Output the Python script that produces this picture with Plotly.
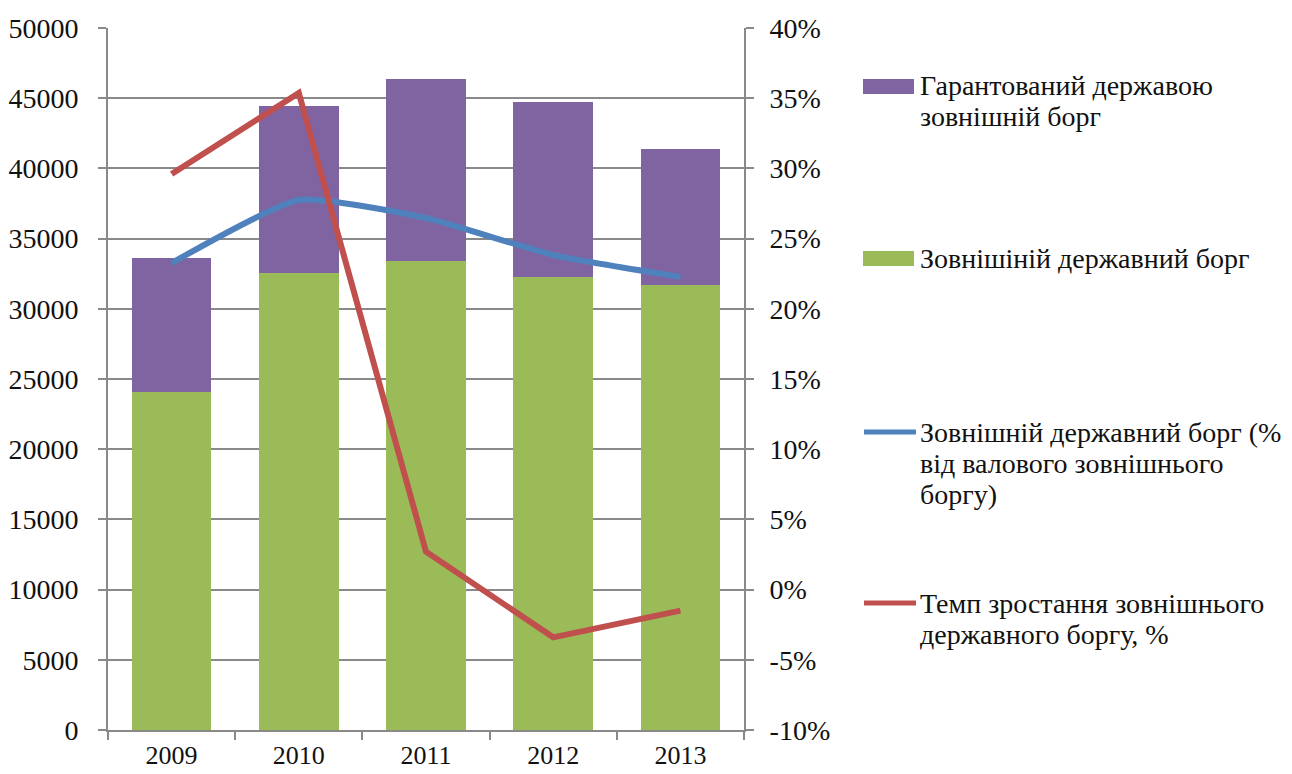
import plotly.graph_objects as go

years = ["2009", "2010", "2011", "2012", "2013"]
external_debt = [24050, 32550, 33400, 32270, 31700]
guaranteed_debt = [9570, 11890, 12970, 12460, 9660]
share_pct = [23.26, 27.75, 26.47, 23.83, 22.27]
growth_pct = [29.6, 35.37, 2.7, -3.4, -1.5]
right_ticks = [-10, -5, 0, 5, 10, 15, 20, 25, 30, 35, 40]
right_tick_labels = ["-10%", "-5%", "0%", "5%", "10%", "15%", "20%", "25%", "30%", "35%", "40%"]

name_lines = [
    ["Гарантований державою", "зовнішній борг"],
    ["Зовнішіній державний борг"],
    ["Зовнішній державний борг (%", "від валового зовнішнього", "боргу)"],
    ["Темп зростання зовнішнього", "державного боргу, %"],
]
names = [" ".join(n) for n in name_lines]
colors = ["#8064A2", "#9BBB59", "#4F81BD", "#C0504D"]

FONT = "Liberation Serif"
GRID = "#898989"

fig = go.Figure()
fig.add_trace(go.Bar(x=years, y=external_debt, marker=dict(color=colors[1], line_width=0),
                     name=names[1], showlegend=False))
fig.add_trace(go.Bar(x=years, y=guaranteed_debt, marker=dict(color=colors[0], line_width=0),
                     name=names[0], showlegend=False))
fig.add_trace(go.Scatter(x=years, y=share_pct, yaxis="y2", mode="lines",
                         line=dict(color=colors[2], width=6, shape="spline", smoothing=0.5),
                         name=names[2], showlegend=False))
fig.add_trace(go.Scatter(x=years, y=growth_pct, yaxis="y2", mode="lines",
                         line=dict(color=colors[3], width=6),
                         name=names[3], showlegend=False))

# page body adds an 8px offset, so the figure is sized/positioned to compensate
OFF = 8
W, H = 1292 - OFF, 774 - OFF
L, R, T, B = 108 - OFF, 548, 28 - OFF, 44
pw, ph = W - L - R, H - T - B

def px(x):
    return (x - OFF - L) / pw

def py(y):
    return (H - B - (y - OFF)) / ph

# manual legend (screen coordinates of the reference)
legend_y = [86, 258, 432, 603]
LINE_GAP = 31
shapes = []
annotations = []
for i, (lines, c, yy) in enumerate(zip(name_lines, colors, legend_y)):
    if i < 2:
        shapes.append(dict(type="rect", xref="paper", yref="paper",
                           x0=px(863), x1=px(914), y0=py(yy + 8), y1=py(yy - 7),
                           fillcolor=c, line_width=0))
    else:
        shapes.append(dict(type="line", xref="paper", yref="paper",
                           x0=px(864), x1=px(916), y0=py(yy), y1=py(yy),
                           line=dict(color=c, width=5)))
    for k, ln in enumerate(lines):
        annotations.append(dict(xref="paper", yref="paper", x=px(918), y=py(yy + k * LINE_GAP),
                                xanchor="left", yanchor="middle", align="left", showarrow=False,
                                text=ln, font=dict(family=FONT, size=28, color="#111111")))

fig.update_layout(
    width=W, height=H,
    margin=dict(l=L, r=R, t=T, b=B, pad=0, autoexpand=False),
    paper_bgcolor="white", plot_bgcolor="white",
    barmode="stack", bargap=0.375,
    font=dict(family=FONT, size=26, color="#111111"),
    shapes=shapes, annotations=annotations,
    xaxis=dict(showline=True, linecolor=GRID, linewidth=2, ticks="outside",
               tickson="boundaries", ticklen=8, tickcolor=GRID, tickwidth=2,
               showgrid=False, mirror=False, automargin=False, ticklabelstandoff=1,
               tickfont=dict(family=FONT, size=26)),
    yaxis=dict(range=[0, 50000], dtick=5000, showline=True, linecolor=GRID, linewidth=2,
               ticks="outside", ticklen=8, tickcolor=GRID, tickwidth=2,
               showgrid=True, gridcolor=GRID, gridwidth=2, zeroline=False,
               tickformat="d", ticklabelstandoff=14, automargin=False,
               tickfont=dict(family=FONT, size=28)),
    yaxis2=dict(range=[-10, 40], overlaying="y", side="right",
                tickmode="array", tickvals=right_ticks, ticktext=right_tick_labels,
                showline=True, linecolor=GRID, linewidth=2,
                ticks="outside", ticklen=8, tickcolor=GRID, tickwidth=2,
                showgrid=False, zeroline=False, ticklabelstandoff=10, automargin=False,
                tickfont=dict(family=FONT, size=28)),
)

fig.write_html("out.html")
